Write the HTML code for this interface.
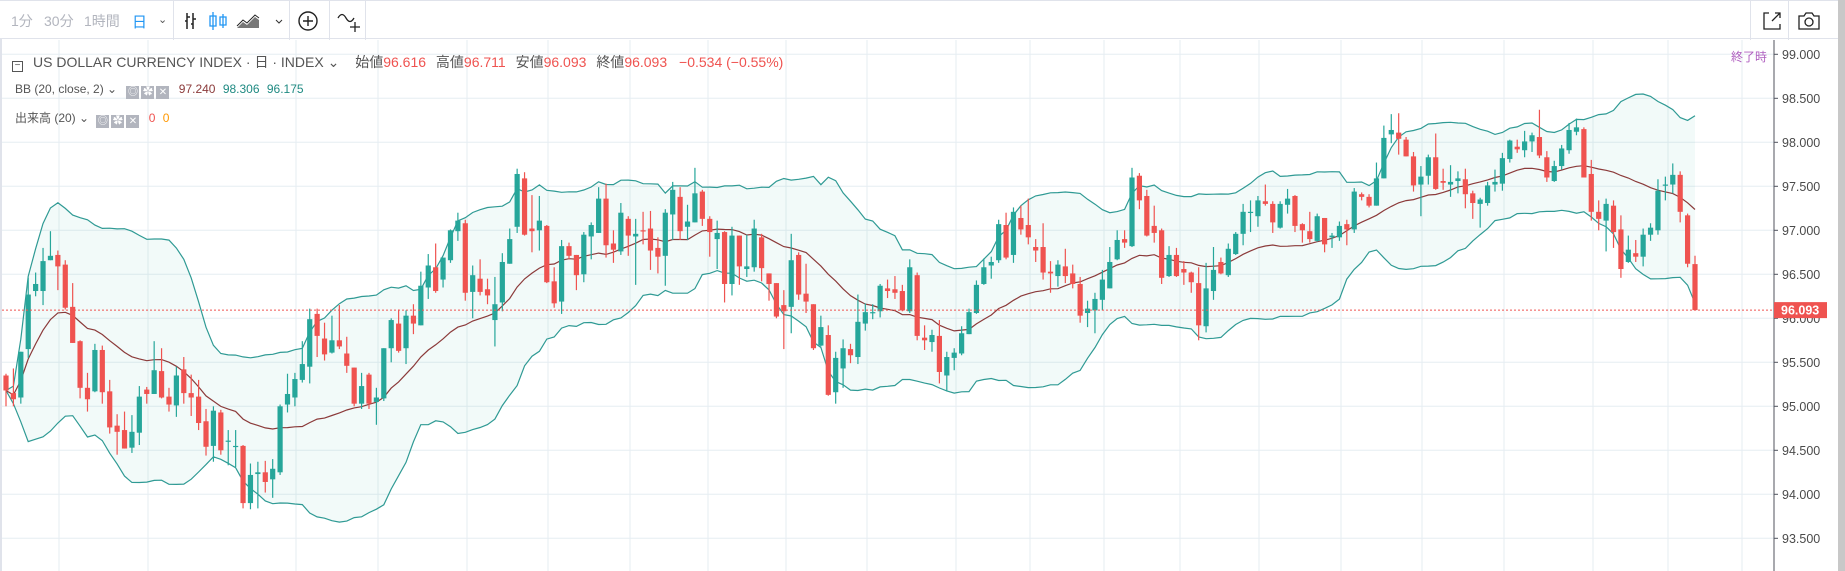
<!DOCTYPE html>
<html><head><meta charset="utf-8"><style>
html,body{margin:0;padding:0;background:#fff;width:1845px;height:571px;overflow:hidden}
body{font-family:"Liberation Sans","Noto Sans CJK JP",sans-serif;position:relative}
.tb{position:absolute;left:0;top:0;width:1838px;height:39px;border-bottom:1px solid #e0e3eb;border-top:1px solid #e0e3eb;box-sizing:border-box}
.ti{position:absolute;top:10px;font-size:14px;color:#b2b5be}
.sep{position:absolute;top:0;width:1px;height:39px;background:#e0e3eb}
.leg{position:absolute;font-size:13px;color:#555;white-space:nowrap}
.red{color:#ef5350}
.ib{display:inline-block;width:13px;height:13px;background:#b2b5be;color:#fff;font-size:10px;line-height:13px;text-align:center;margin-right:2px;vertical-align:-2px}
</style></head><body>
<div class="tb">
<span class="ti" style="left:11px">1分</span>
<span class="ti" style="left:44px">30分</span>
<span class="ti" style="left:84px">1時間</span>
<span class="ti" style="left:132px;color:#2196f3;font-size:15px">日</span>
<span class="ti" style="left:158px;color:#555;font-size:11px;top:12px">⌄</span>
<div class="sep" style="left:173px"></div>
<svg style="position:absolute;left:182px;top:10px" width="120" height="20">
<path d="M5 2v16M3 10h2M5 6h3M11 2v16M9 13h2M11 8h3" stroke="#222" stroke-width="1.5" fill="none"/>
<path d="M31 1v18M28 5h6v10h-6zM41 3v14M38 6h6v8h-6z" stroke="#2196f3" stroke-width="1.3" fill="none"/>
<path d="M55 17l6-6 4 3 8-8 4 3v8z" fill="#777"/><path d="M55 15l6-6 4 3 8-8 4 3" stroke="#222" fill="none"/>
<path d="M94 9l3 3 3-3" stroke="#333" fill="none"/></svg>
<div class="sep" style="left:289px"></div>
<svg style="position:absolute;left:296px;top:8px" width="24" height="24"><circle cx="12" cy="12" r="9" stroke="#222" stroke-width="1.4" fill="none"/><path d="M12 7v10M7 12h10" stroke="#222" stroke-width="1.4"/></svg>
<div class="sep" style="left:329px"></div>
<svg style="position:absolute;left:336px;top:7px" width="28" height="26"><path d="M2 10q4-7 8 0t8 0" stroke="#222" stroke-width="1.3" fill="none"/><path d="M19 14v10M14 19h10" stroke="#222" stroke-width="1.3"/></svg>
<div class="sep" style="left:365px"></div>
<div class="sep" style="left:1750px"></div>
<svg style="position:absolute;left:1762px;top:10px" width="20" height="20"><path d="M7 2H2v16h16v-5M10 10l8-8M13 2h5v5" stroke="#222" stroke-width="1.3" fill="none"/></svg>
<div class="sep" style="left:1788px"></div>
<svg style="position:absolute;left:1797px;top:10px" width="24" height="20"><path d="M2 5h5l2-3h6l2 3h5v13H2z" stroke="#222" stroke-width="1.3" fill="none"/><circle cx="12" cy="11" r="4" stroke="#222" stroke-width="1.3" fill="none"/></svg>
</div>
<div style="position:absolute;left:0;top:39px;width:2px;height:532px;background:#e0e3eb"></div>
<div style="position:absolute;left:1838px;top:0;width:7px;height:571px;background:#c8c8c8"></div>
<svg id="chart" style="position:absolute;left:0;top:0" width="1838" height="571"></svg>
<div class="leg" style="left:12px;top:52px;font-size:14px">
<span style="display:inline-block;width:9px;height:9px;border:1px solid #555;vertical-align:-1px;margin-right:10px;line-height:7px;font-size:10px;text-align:center">−</span><span>US DOLLAR CURRENCY INDEX · 日 · INDEX</span> ⌄
<span style="margin-left:12px">始値</span><span class="red">96.616</span>
<span style="margin-left:6px">高値</span><span class="red">96.711</span>
<span style="margin-left:6px">安値</span><span class="red">96.093</span>
<span style="margin-left:6px">終値</span><span class="red">96.093</span>
<span class="red" style="margin-left:8px">−0.534 (−0.55%)</span></div>
<div class="leg" style="left:15px;top:82px;font-size:12px">BB (20, close, 2) ⌄ <span style="margin-left:6px"><span class="ib">◎</span><span class="ib">✿</span><span class="ib">✕</span></span>
<span style="color:#8b3a3a;margin-left:4px">97.240</span> <span style="color:#1f8a82;margin-left:4px">98.306</span> <span style="color:#1f8a82;margin-left:4px">96.175</span></div>
<div class="leg" style="left:15px;top:109px;font-size:12px">出来高 (20) ⌄ <span style="margin-left:4px"><span class="ib">◎</span><span class="ib">✿</span><span class="ib">✕</span></span>
<span class="red" style="margin-left:4px">0</span> <span style="color:#ff9800;margin-left:4px">0</span></div>
<div class="leg" style="left:1731px;top:48px;color:#b060c0;font-size:12px">終了時</div>
<script>
const O=[95.35,95.15,95.10,95.65,96.31,96.31,96.66,96.72,96.61,96.13,95.74,95.21,95.17,95.64,95.17,94.78,94.73,94.53,94.70,95.19,95.14,95.40,95.11,95.01,95.42,95.15,95.11,94.83,94.55,94.93,94.60,94.54,94.55,93.90,94.23,94.25,94.17,94.25,95.02,95.10,95.30,95.45,96.05,95.77,95.61,95.75,95.60,95.44,95.03,95.36,95.05,95.09,95.66,95.94,95.66,96.03,95.92,96.35,96.58,96.44,96.66,96.99,
97.08,96.30,96.45,96.33,95.98,96.18,96.62,97.04,97.59,97.02,97.00,97.05,96.42,96.19,96.82,96.72,96.50,96.93,96.97,97.36,96.85,96.76,97.13,96.93,97.00,97.02,96.80,96.71,97.18,97.38,97.04,97.09,97.44,97.13,96.90,96.98,96.39,96.94,96.56,96.58,96.92,96.51,96.40,96.15,96.13,96.72,96.28,96.16,95.69,95.81,95.16,95.43,95.65,95.56,95.94,96.06,96.08,96.34,96.33,
96.31,96.08,96.49,95.78,95.73,95.80,95.35,95.55,95.60,95.82,96.06,96.39,96.60,96.66,97.06,96.72,97.14,97.06,96.81,96.81,96.53,96.48,96.59,96.51,96.39,96.06,96.09,96.21,96.34,96.67,96.90,96.82,97.62,97.39,97.05,97.00,96.48,96.72,96.56,96.52,96.40,95.91,96.31,96.64,96.49,96.73,96.96,97.20,97.16,97.33,97.30,97.03,97.29,97.39,97.07,96.99,96.88,97.14,96.92,
96.92,97.07,97.01,97.41,97.38,97.28,97.59,98.09,98.11,98.03,97.84,97.52,97.62,97.83,97.56,97.52,97.56,97.58,97.42,97.30,97.31,97.52,97.53,97.81,97.95,97.91,98.01,98.06,97.83,97.56,97.73,97.91,98.12,98.15,97.64,97.21,97.11,97.28,97.01,96.64,96.74,96.70,96.95,97.00,97.52,97.52,97.63,97.17,96.616];
const H=[95.37,95.43,95.62,96.46,96.52,96.80,96.99,96.77,96.66,96.40,95.75,95.38,95.71,95.69,95.30,94.91,94.94,94.90,95.23,95.22,95.74,95.66,95.21,95.45,95.56,95.36,95.30,94.97,95.00,94.96,94.73,94.73,94.56,94.35,94.37,94.38,94.40,95.02,95.37,95.38,95.74,96.11,96.11,95.95,96.03,96.15,95.79,95.44,95.38,95.38,95.21,95.66,96.00,96.10,96.09,96.16,96.53,96.73,96.85,96.69,97.01,97.20,
97.12,96.60,96.67,96.45,96.47,96.74,97.02,97.70,97.66,97.40,97.39,97.06,96.58,96.89,96.86,96.72,96.98,97.09,97.49,97.53,97.00,97.31,97.16,97.13,97.21,97.22,96.92,97.24,97.55,97.49,97.29,97.71,97.46,97.16,97.11,96.99,97.04,96.94,96.95,97.12,96.96,96.51,96.40,96.32,96.96,96.75,96.62,96.16,96.03,95.92,95.62,95.76,95.71,96.27,96.17,96.16,96.39,96.44,96.48,
96.38,96.67,96.52,95.92,95.87,95.98,95.62,95.66,95.91,96.11,96.43,96.68,96.70,97.12,97.20,97.26,97.28,97.36,96.90,97.08,96.65,96.66,96.79,96.61,96.47,96.20,96.29,96.55,96.81,97.00,97.00,97.71,97.65,97.46,97.28,97.02,96.82,96.80,96.65,96.53,96.58,96.63,96.81,96.69,96.85,96.98,97.30,97.34,97.39,97.52,97.33,97.33,97.47,97.40,97.08,97.21,97.19,97.14,96.97,
97.10,97.12,97.48,97.43,97.41,97.77,98.19,98.32,98.33,98.06,97.89,97.73,97.86,98.10,97.70,97.74,97.67,97.70,97.45,97.37,97.55,97.69,97.88,98.03,98.03,98.13,98.11,98.37,97.90,97.79,97.97,98.22,98.27,98.17,97.80,97.34,97.36,97.34,97.17,96.94,96.89,97.02,97.08,97.58,97.61,97.76,97.67,97.19,96.711];
const L=[95.00,95.00,95.03,95.55,96.25,96.15,96.66,96.32,96.10,95.72,95.09,94.94,95.16,95.03,94.69,94.45,94.52,94.47,94.56,95.03,95.14,95.09,94.94,94.88,95.03,94.89,94.73,94.44,94.37,94.45,94.33,94.31,93.84,93.83,93.84,94.02,93.96,94.22,94.93,95.00,95.27,95.26,95.56,95.52,95.60,95.65,95.38,95.00,94.97,94.97,94.79,95.06,95.50,95.61,95.48,95.82,95.92,96.22,96.29,96.35,96.63,96.88,
96.20,96.00,96.26,96.16,95.68,96.08,96.62,96.97,96.94,96.75,96.77,96.40,96.12,96.05,96.67,96.32,96.41,96.67,96.97,96.69,96.63,96.72,96.71,96.38,96.84,96.55,96.51,96.37,96.89,96.89,96.89,97.09,97.05,96.70,96.56,96.18,96.26,96.38,96.47,96.53,96.42,96.20,96.00,95.65,95.83,96.21,96.06,95.64,95.68,95.12,95.03,95.21,95.49,95.48,95.86,95.99,96.01,96.23,96.22,
96.08,96.06,95.75,95.64,95.62,95.26,95.17,95.41,95.58,95.82,96.05,96.38,96.45,96.63,96.67,96.63,96.95,96.84,96.64,96.44,96.29,96.36,96.40,96.34,95.95,95.90,95.83,96.09,96.34,96.66,96.80,96.81,97.24,96.93,96.86,96.39,96.47,96.47,96.38,96.29,95.75,95.84,96.21,96.50,96.47,96.72,96.83,96.98,97.04,97.28,96.97,97.02,97.19,96.98,96.86,96.86,96.87,96.75,96.80,
96.88,96.83,96.97,97.34,97.26,97.28,97.59,97.99,97.86,97.84,97.44,97.16,97.52,97.46,97.46,97.38,97.42,97.25,97.13,97.03,97.28,97.44,97.45,97.77,97.88,97.83,97.89,97.82,97.55,97.55,97.69,97.87,98.08,97.60,97.11,97.00,96.76,96.80,96.46,96.63,96.64,96.59,96.88,96.95,97.34,97.42,97.09,96.58,96.093];
const C=[95.18,95.08,95.62,96.27,96.39,96.65,96.71,96.59,96.12,95.72,95.21,95.08,95.64,95.16,94.76,94.71,94.52,94.71,95.11,95.14,95.41,95.10,95.02,95.35,95.15,95.10,94.81,94.54,94.95,94.50,94.61,94.55,93.90,94.22,94.25,94.14,94.29,95.00,95.14,95.31,95.48,95.99,95.80,95.59,95.75,95.68,95.46,95.03,95.23,95.03,95.10,95.66,95.98,95.63,96.03,95.94,96.37,96.60,96.31,96.69,97.00,97.11,
96.29,96.49,96.30,96.26,96.16,96.64,96.90,97.64,96.95,96.99,97.11,96.41,96.17,96.82,96.71,96.49,96.95,97.06,97.36,96.83,96.78,97.20,96.94,96.96,96.99,96.77,96.70,97.20,97.46,96.99,97.10,97.42,97.13,96.98,96.97,96.39,96.94,96.59,96.59,97.02,96.57,96.39,96.02,96.08,96.66,96.27,96.19,95.66,95.90,95.13,95.55,95.66,95.58,95.96,96.07,96.07,96.37,96.31,96.29,
96.09,96.58,95.80,95.75,95.81,95.39,95.56,95.61,95.83,96.07,96.38,96.58,96.64,97.07,96.69,97.21,97.01,96.92,96.77,96.52,96.51,96.61,96.48,96.39,96.03,96.11,96.22,96.44,96.64,96.89,96.86,97.60,97.34,96.94,96.97,96.46,96.72,96.48,96.52,96.41,95.92,96.34,96.55,96.51,96.79,96.96,97.21,97.21,97.34,97.30,97.09,97.30,97.36,97.05,97.00,96.90,97.16,96.84,96.94,
97.05,97.01,97.44,97.38,97.28,97.59,98.05,98.14,98.04,97.84,97.51,97.61,97.83,97.47,97.54,97.55,97.59,97.41,97.31,97.35,97.51,97.55,97.82,98.02,97.92,98.01,98.08,97.85,97.60,97.73,97.93,98.14,98.17,97.60,97.21,97.13,97.30,96.98,96.56,96.78,96.70,96.95,97.03,97.45,97.52,97.63,97.21,96.62,96.093];
const PRICE_TICKS=[93.5,94,94.5,95,95.5,96,96.5,97,97.5,98,98.5,99];
const LAST=96.093;

const NS="http://www.w3.org/2000/svg";
const svg=document.getElementById('chart');
const AX=1774, TOP=40, BOT=571;
const X0=6, DX=(1695-6)/(C.length-1);
const yS=p=>318.3+(96-p)*88;
const xS=i=>X0+i*DX;
function mk(t,a,parent){const e=document.createElementNS(NS,t);for(const k in a)e.setAttribute(k,a[k]);(parent||svg).appendChild(e);return e;}

// grid
const gG=mk('g',{});


[59,148,296,378,467,548,630,708,786,867,956,1030,1104,1180,1259,1341,1422,1504,1593,1668,1742].forEach(x=>{
  const l=mk('line',{x1:x,x2:x,y1:TOP,y2:BOT,stroke:'#e6edf2','stroke-width':1},gG);
  
  
});
PRICE_TICKS.forEach(p=>{
  const l=mk('line',{x1:2,x2:AX,y1:yS(p),y2:yS(p),stroke:'#e6edf2','stroke-width':1},gG);
  
  
});

// bollinger
const up=[],mid=[],lo=[];
for(let i=0;i<C.length;i++){
  const s=Math.max(0,i-19),w=C.slice(s,i+1);
  const m=w.reduce((a,b)=>a+b,0)/w.length;
  const sd=Math.sqrt(w.reduce((a,b)=>a+(b-m)*(b-m),0)/w.length);
  mid.push(m);up.push(m+2*sd);lo.push(m-2*sd);
}
const pts=a=>a.map((v,i)=>xS(i).toFixed(1)+','+yS(v).toFixed(1));
const fill=mk('polygon',{points:pts(up).concat(pts(lo).reverse()).join(' '),fill:'rgba(38,166,154,0.06)'});


const bu=mk('polyline',{points:pts(up).join(' '),fill:'none',stroke:'#2f9a94','stroke-width':1.2});


const bl=mk('polyline',{points:pts(lo).join(' '),fill:'none',stroke:'#2f9a94','stroke-width':1.2});


const bm=mk('polyline',{points:pts(mid).join(' '),fill:'none',stroke:'#8b3a3a','stroke-width':1.2});



// candles
for(let i=0;i<C.length;i++){
  const g=mk('g',{});
  
  
  const col=C[i]>=O[i]?'#26a69a':'#ef5350';
  const x=xS(i);
  mk('line',{x1:x,x2:x,y1:yS(H[i]),y2:yS(L[i]),stroke:col,'stroke-width':1.2},g);
  const t=yS(Math.max(O[i],C[i])),b=yS(Math.min(O[i],C[i]));
  mk('rect',{x:x-2.6,y:t,width:5.2,height:Math.max(1.2,b-t),fill:col},g);
}

// last price line
const lp=mk('line',{x1:2,x2:AX,y1:yS(LAST),y2:yS(LAST),stroke:'#ef5350','stroke-width':1,'stroke-dasharray':'2,2'});



// axis
const ax=mk('line',{x1:AX,x2:AX,y1:TOP,y2:BOT,stroke:'#50535e','stroke-width':1});


PRICE_TICKS.forEach(p=>{
  mk('line',{x1:AX,x2:AX+4,y1:yS(p),y2:yS(p),stroke:'#50535e'});
  const t=mk('text',{x:AX+8,y:yS(p)+4.5,'font-size':12.5,fill:'#4a4a4a','font-family':'Liberation Sans, sans-serif'});
  t.textContent=p.toFixed(3);
  
  
});
const lb=mk('rect',{x:AX,y:yS(LAST)-8,width:53,height:16,fill:'#ef5350'});


const lt=mk('text',{x:AX+7,y:yS(LAST)+4.5,'font-size':12.5,'font-weight':'bold',fill:'#fff','font-family':'Liberation Sans, sans-serif'});
lt.textContent=LAST.toFixed(3);


</script>
</body></html>
